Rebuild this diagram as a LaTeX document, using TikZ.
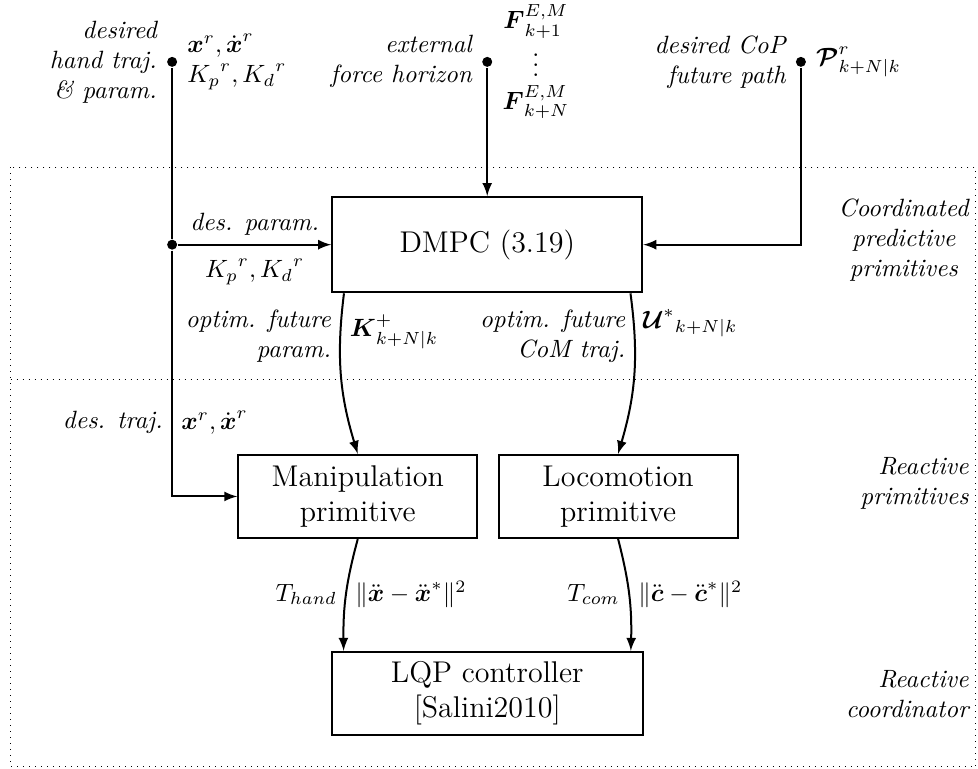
\documentclass[tikz,border=0pt]{standalone}
\usepackage{amsmath}
\usepackage{amssymb}
\usepackage{tikz}
\usetikzlibrary{calc,arrows}

\begin{document}
\begin{tikzpicture}[thick,
  blk/.style={draw,thick,align=center,font=\large},
  pnt/.style={circle,fill=black,inner sep=0pt,minimum size=4pt},
  lbl/.style={font=\itshape,align=right}]
\useasboundingbox (0,0) rectangle (13.75,-10.81);
\draw[dotted,thin] (0.15,-2.35) rectangle (13.72,-10.78);
\draw[dotted,thin] (0.15,-5.34) -- (13.72,-5.34);

\node[blk,minimum width=4.36cm,minimum height=1.34cm](dmpc)at(6.85,-3.44){DMPC (3.19)};
\node[blk,minimum width=3.36cm,minimum height=1.17cm](manip)at(5.03,-6.98){Manipulation\\primitive};
\node[blk,minimum width=3.36cm,minimum height=1.17cm](loco)at(8.69,-6.98){Locomotion\\primitive};
\node[blk,minimum width=4.37cm,minimum height=1.17cm](lqp)at(6.85,-9.75){LQP controller\\{[Salini2010]}};

\node[pnt](hand)at(2.42,-0.87){};
\node[lbl,left](handtxt)at(hand.west){desired\\hand traj.\\\& param.};
\node[right,align=left](handvar)at(hand.east){$\boldsymbol{x}^r,\dot{\boldsymbol{x}}^r$\\${K_p}^r,{K_d}^r$};
\node[pnt](force)at(6.85,-0.87){};
\node[lbl,left](forcetxt)at(force.west){external\\force horizon};
\node[right](forcevar)at(force.east){$\begin{array}{@{}c@{}}\boldsymbol{F}^{E,M}_{k+1}\\ \vdots\\ \boldsymbol{F}^{E,M}_{k+N}\end{array}$};
\node[pnt](cop)at(11.26,-0.87){};
\node[lbl,left](coptxt)at(cop.west){desired CoP\\future path};
\node[right](copvar)at(cop.east){$\boldsymbol{\mathcal{P}}^r_{k+N|k}$};

\node[pnt](junc)at(hand|-dmpc){};
\draw(hand)--(junc);
\draw[-latex](junc)--node[lbl,above](desparam){des. param.}node[below=2pt](desgain){${K_p}^r,{K_d}^r$}(dmpc.west);
\draw[-latex](junc)|-node[lbl,pos=0.35,left](destraj){des. traj.}node[pos=0.35,right](desx){$\boldsymbol{x}^r,\dot{\boldsymbol{x}}^r$}(manip.west);
\draw[-latex](force)--(dmpc.north);
\draw[-latex](cop)|-(dmpc.east);

\coordinate(kout)at([xshift=0.18cm]dmpc.south west);
\coordinate(uout)at([xshift=-0.18cm]dmpc.south east);
\coordinate(hin)at([xshift=0.18cm]lqp.north west);
\coordinate(cin)at([xshift=-0.18cm]lqp.north east);
\draw[-latex](kout)to[bend right=12]node[lbl,pos=0.25,left](kopt){optim. future\\param.}node[pos=0.22,right](kval){$\boldsymbol{K}^+_{k+N|k}$}(manip.north);
\draw[-latex](uout)to[bend left=12]node[lbl,pos=0.25,left](uopt){optim. future\\CoM traj.}node[pos=0.17,right](uval){${\boldsymbol{\mathcal{U}}^*}_{k+N|k}$}(loco.north);
\draw[-latex](manip.south)to[bend right=8]node[left](thand){$T_{hand}$}node[right](xerr){$\|\ddot{\boldsymbol{x}}-\ddot{\boldsymbol{x}}^*\|^2$}(hin);
\draw[-latex](loco.south)to[bend left=8]node[left](tcom){$T_{com}$}node[right](cerr){$\|\ddot{\boldsymbol{c}}-\ddot{\boldsymbol{c}}^*\|^2$}(cin);

\node[lbl,anchor=east,align=center](lvlone)at(13.75,-3.37){Coordinated\\predictive\\primitives};
\node[lbl,anchor=east](lvltwo)at(13.75,-6.80){Reactive\\primitives};
\node[lbl,anchor=east](lvlthree)at(13.75,-9.76){Reactive\\coordinator};
\end{tikzpicture}
\end{document}
